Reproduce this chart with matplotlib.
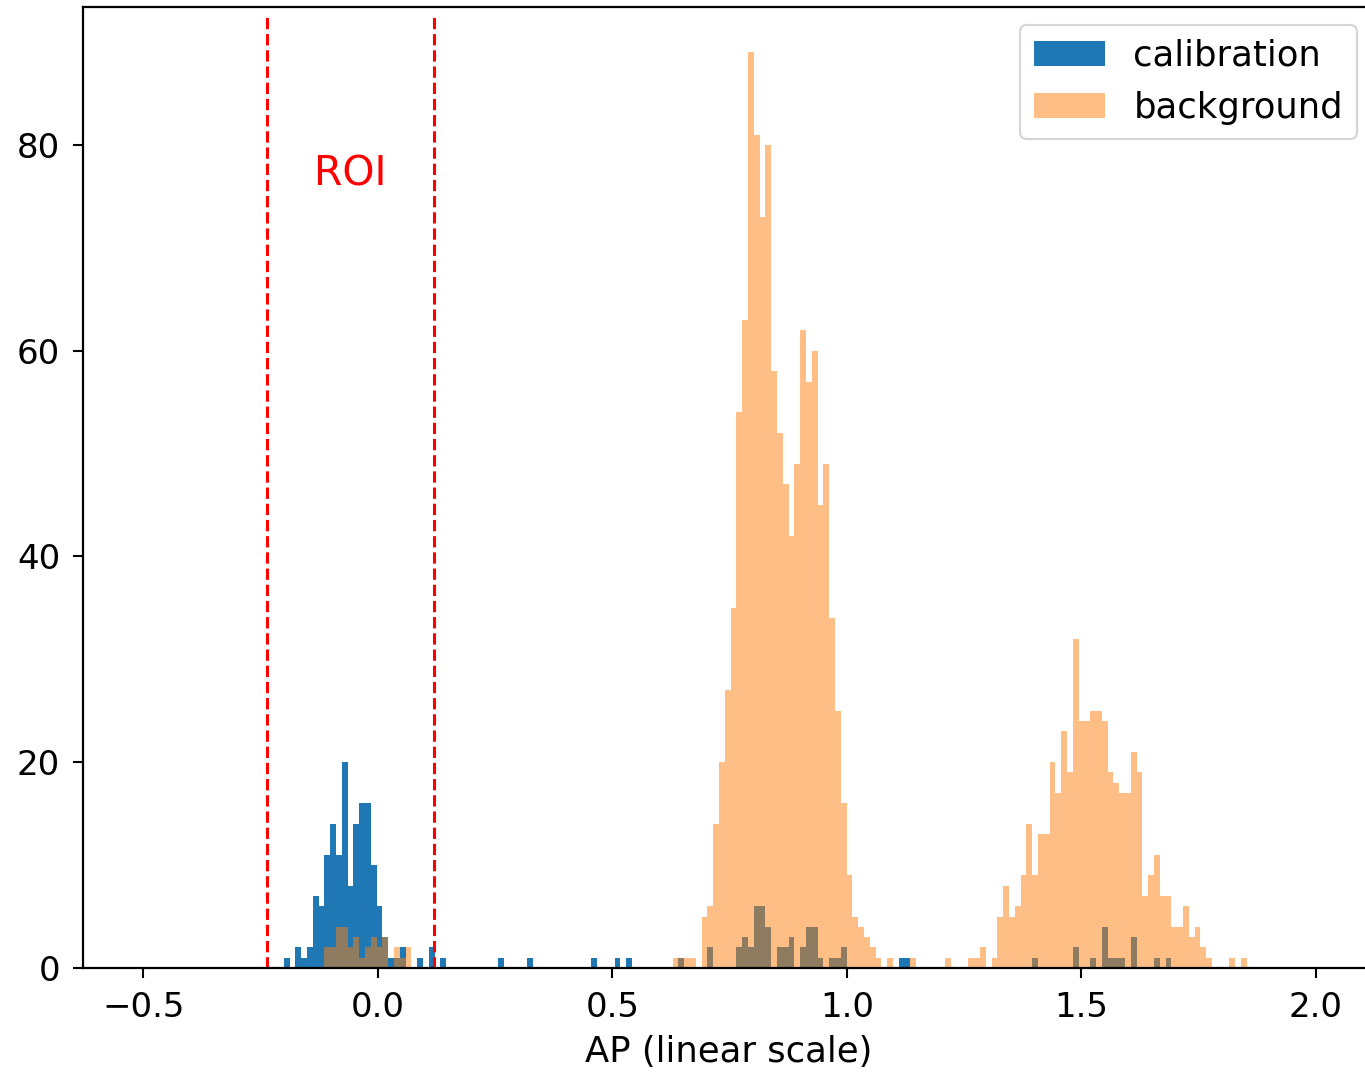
import matplotlib
matplotlib.use('Agg')
import matplotlib.pyplot as plt
import numpy as np

# ----------------------------------------
# Histogram data (counts per bin)
# ----------------------------------------
bin_width = 0.01237
bin_zero = -0.00277      # left edge of bin index 0

# calibration: contiguous run starting at bin -16
calib_roi_first = -16
calib_roi = [1, 0, 2, 1, 2, 7, 6, 11, 14, 11, 20, 8, 14, 16, 16, 10,
             6, 3, 1, 1, 2, 0, 0, 1, 0, 2, 0, 1]
# calibration: scattered bins further right
calib_other_bins = [21, 26, 37, 41, 43, 52, 57, 62, 63, 64, 65, 66, 67, 69, 70, 71,
                    73, 74, 75, 76, 78, 79, 80, 90, 91, 113, 120, 123, 125, 126,
                    127, 128, 130, 134, 136]
calib_other_counts = [1, 1, 1, 1, 1, 1, 2, 2, 3, 2, 6, 6, 4, 2, 2, 3,
                      2, 4, 4, 1, 1, 1, 2, 1, 1, 1, 2, 1, 4, 1,
                      1, 1, 3, 1, 1]

# background
bg_roi_first = -9
bg_roi = [2, 2, 4, 4, 2, 3, 1, 2, 3, 2, 3, 0, 2, 1, 2]
bg_main_first = 51
bg_main = [1, 1, 1, 1, 0, 5, 6, 14, 20, 27, 35, 54, 63, 89, 81, 73, 80, 58, 52,
           47, 42, 49, 62, 57, 60, 45, 49, 34, 25, 16, 9, 5, 4, 3, 2, 1, 0, 1]
bg_second_first = 102
bg_second = [1, 1, 2, 0, 1, 5, 8, 5, 6, 9, 14, 9, 13, 13, 20, 17, 23, 19, 32, 24,
             24, 25, 25, 24, 19, 18, 17, 17, 21, 19, 7, 9, 11, 7, 7, 4, 4, 6, 3, 4,
             2, 1]
bg_other_bins = [92, 98, 147, 149]
bg_other_counts = [1, 1, 1, 1]

roi_lo, roi_hi = -0.2367, 0.1194

# ----------------------------------------
# Assemble per-bin weights
# ----------------------------------------
k_min, k_max = -16, 150
k_all = np.arange(k_min, k_max + 1)
edges = bin_zero + np.arange(k_min, k_max + 2) * bin_width
centers = bin_zero + (k_all + 0.5) * bin_width


def fill(runs, singles):
    w = np.zeros(len(k_all))
    for first, counts in runs:
        for i, c in enumerate(counts):
            w[first + i - k_min] += c
    for b, c in zip(*singles):
        w[b - k_min] += c
    return w


calib_w = fill([(calib_roi_first, calib_roi)], (calib_other_bins, calib_other_counts))
bg_w = fill([(bg_roi_first, bg_roi), (bg_main_first, bg_main), (bg_second_first, bg_second)],
            (bg_other_bins, bg_other_counts))

# ----------------------------------------
# Plot
# ----------------------------------------
fig = plt.figure(figsize=(13.65, 10.79), dpi=100)
ax = fig.add_axes([0.0608, 0.1029, 0.9465, 0.8906])

ax.hist(centers, bins=edges, weights=calib_w, color='#1f77b4', label='calibration')
ax.hist(centers, bins=edges, weights=bg_w, color='#ff7f0e', alpha=0.5, label='background')

ax.vlines([roi_lo, roi_hi], 0, 92.6, colors='red', linestyles='--', linewidth=2.2)
ax.text((roi_lo + roi_hi) / 2, 77.1, 'ROI', color='red', fontsize=29.5,
        ha='center', va='center')

ax.set_xlim(-0.629, 2.126)
ax.set_ylim(0, 93.4)
ax.set_xticks([-0.5, 0.0, 0.5, 1.0, 1.5, 2.0])
ax.set_yticks([0, 20, 40, 60, 80])
ax.set_xlabel('AP (linear scale)', fontsize=25.5, labelpad=8)
ax.tick_params(labelsize=24.5, length=7.5, width=1.5, pad=9)
for s in ax.spines.values():
    s.set_linewidth(1.6)

leg = ax.legend(loc='upper right', fontsize=25.5)
leg.get_frame().set_linewidth(1.6)

fig.savefig('out.png', dpi=100)
